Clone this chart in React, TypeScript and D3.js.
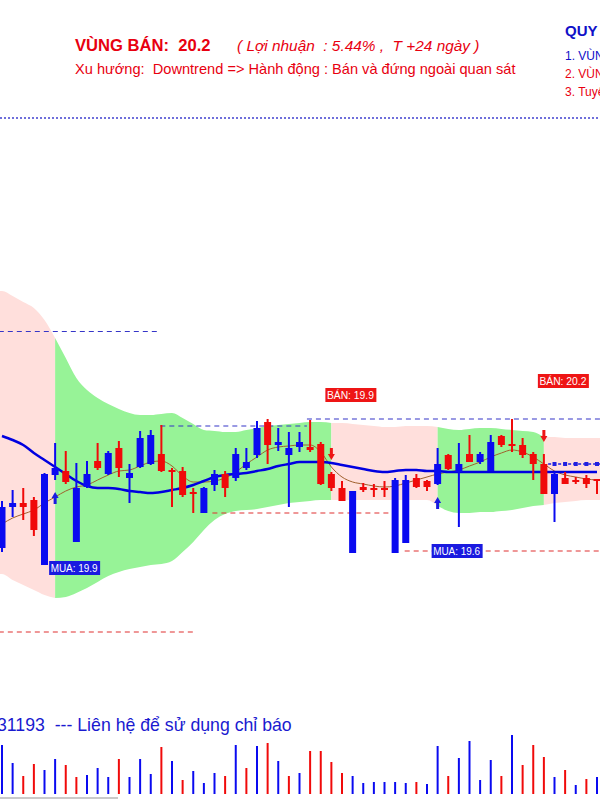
import React from 'react';
import * as d3 from 'd3';

const W = 600;
const H = 800;

// ---- candle data (price) ----
const opens = [19.555, 19.76, 19.78, 19.795, 19.47, 19.92, 19.94, 19.585, 19.86, 19.99,
  19.925, 20.055, 19.905, 19.96, 19.975, 20.025, 19.945, 19.94, 19.835, 19.73,
  19.87, 19.925, 19.905, 19.955, 20.02, 20.185, 20.07, 20.02, 20.06, 20.06,
  20.075, 19.925, 19.855, 19.53, 19.86, 19.855, 19.855, 19.53, 19.58, 19.905,
  19.89, 19.875, 20.02, 19.935, 20.025, 19.985, 19.94, 20.115, 20.075, 20.07,
  20.025, 19.975, 19.825, 19.905, 19.895, 19.905, 19.9];
const closes = [19.76, 19.78, 19.76, 19.645, 19.925, 19.955, 19.885, 19.855, 19.925, 19.955,
  20.03, 19.955, 19.93, 20.105, 20.12, 19.94, 19.935, 19.82, 19.825, 19.855,
  19.925, 19.855, 20.025, 19.985, 20.155, 20.07, 20.085, 20.055, 20.085, 20.045,
  19.875, 19.855, 19.79, 19.84, 19.845, 19.845, 19.845, 19.895, 19.895, 19.86,
  19.86, 19.975, 19.95, 19.975, 19.985, 20.025, 20.085, 20.07, 20.065, 20.02,
  19.975, 19.825, 19.925, 19.875, 19.885, 19.875, 19.89];
const highs = [19.79, 19.845, 19.855, 19.81, 19.93, 20.08, 20.04, 19.98, 19.99, 20.08,
  20.04, 20.09, 19.975, 20.14, 20.145, 20.17, 19.955, 19.96, 19.855, 19.86,
  19.945, 19.94, 20.055, 20.055, 20.19, 20.2, 20.155, 20.135, 20.135, 20.195,
  20.085, 19.935, 19.89, 19.84, 19.88, 19.875, 19.89, 19.905, 19.92, 19.925,
  19.895, 20.055, 20.025, 20.08, 20.12, 20.035, 20.12, 20.12, 20.2, 20.105,
  20.035, 20.025, 19.935, 19.935, 19.91, 19.92, 19.9];
const lows = [19.535, 19.71, 19.695, 19.615, 19.47, 19.895, 19.875, 19.585, 19.855, 19.945,
  19.92, 19.91, 19.78, 19.955, 19.97, 19.935, 19.76, 19.81, 19.73, 19.73,
  19.84, 19.81, 19.89, 19.945, 20.005, 19.975, 20.04, 19.76, 20.035, 20.035,
  19.87, 19.84, 19.79, 19.53, 19.835, 19.81, 19.81, 19.53, 19.58, 19.855,
  19.84, 19.87, 19.945, 19.66, 19.985, 19.975, 19.94, 20.06, 20.035, 20.005,
  19.895, 19.825, 19.685, 19.875, 19.875, 19.855, 19.825];

// ---- indicator lines ----
const maSlow = [20.115, 20.095, 20.07, 20.03, 19.995, 19.96, 19.925, 19.89, 19.865, 19.855,
  19.855, 19.85, 19.84, 19.835, 19.83, 19.835, 19.845, 19.855, 19.87, 19.89,
  19.91, 19.92, 19.925, 19.93, 19.94, 19.95, 19.965, 19.975, 19.985, 19.985,
  19.985, 19.98, 19.97, 19.96, 19.95, 19.94, 19.935, 19.94, 19.945, 19.945,
  19.94, 19.94, 19.935, 19.935, 19.935, 19.935, 19.935, 19.935, 19.935, 19.935,
  19.935, 19.935, 19.935, 19.935, 19.935, 19.935, 19.935];
const maFast = [19.675, 19.705, 19.725, 19.745, 19.78, 19.81, 19.84, 19.86, 19.87, 19.895,
  19.92, 19.94, 19.945, 19.965, 19.985, 19.99, 19.965, 19.915, 19.885, 19.885,
  19.89, 19.905, 19.935, 19.975, 20.01, 20.045, 20.06, 20.065, 20.07, 20.07,
  20.035, 19.96, 19.91, 19.885, 19.875, 19.865, 19.86, 19.865, 19.88, 19.895,
  19.91, 19.925, 19.935, 19.945, 19.965, 19.985, 20.01, 20.03, 20.045, 20.035,
  20.01, 19.975, 19.94, 19.92, 19.91, 19.9, 19.895];

// ---- band (cloud) ----
const bandUpper = [20.84, 20.815, 20.785, 20.755, 20.695, 20.605, 20.505, 20.405, 20.345, 20.305,
  20.275, 20.25, 20.23, 20.22, 20.22, 20.225, 20.23, 20.205, 20.175, 20.145,
  20.14, 20.135, 20.135, 20.145, 20.155, 20.165, 20.17, 20.175, 20.18, 20.185,
  20.185, 20.18, 20.18, 20.175, 20.17, 20.165, 20.16, 20.16, 20.165, 20.165,
  20.165, 20.16, 20.15, 20.145, 20.15, 20.155, 20.155, 20.15, 20.145, 20.14,
  20.135, 20.11, 20.11, 20.105, 20.105, 20.105, 20.105];
const bandLower = [19.425, 19.395, 19.37, 19.345, 19.32, 19.305, 19.31, 19.33, 19.355, 19.385,
  19.415, 19.435, 19.45, 19.46, 19.47, 19.475, 19.49, 19.535, 19.585, 19.645,
  19.695, 19.725, 19.74, 19.745, 19.75, 19.76, 19.77, 19.78, 19.785, 19.79,
  19.795, 19.795, 19.795, 19.795, 19.795, 19.795, 19.795, 19.795, 19.795, 19.795,
  19.795, 19.765, 19.74, 19.73, 19.73, 19.735, 19.735, 19.74, 19.745, 19.755,
  19.765, 19.77, 19.78, 19.785, 19.79, 19.795, 19.795];
const trendState = [
  'down', 'down', 'down', 'down', 'down',
  'up', 'up', 'up', 'up', 'up', 'up', 'up', 'up', 'up', 'up', 'up', 'up', 'up',
  'up', 'up', 'up', 'up', 'up', 'up', 'up', 'up', 'up', 'up', 'up', 'up', 'up',
  'down', 'down', 'down', 'down', 'down', 'down', 'down', 'down', 'down', 'down',
  'up', 'up', 'up', 'up', 'up', 'up', 'up', 'up', 'up', 'up',
  'down', 'down', 'down', 'down', 'down', 'down'];

// ---- volume ----
const volumes = [490, 310, 180, 300, 240, 350, 290, 170, 190, 260,
  170, 350, 170, 350, 200, 470, 330, 140, 230, 110,
  210, 180, 490, 260, 480, 510, 330, 180, 210, 430,
  430, 320, 210, 180, 110, 120, 120, 120, 110, 120,
  100, 480, 180, 360, 530, 140, 340, 180, 590, 290,
  490, 370, 170, 240, 90, 150, 170];
const volumeDir = ['u', 'u', 'd', 'd', 'u', 'u', 'd', 'd', 'u', 'u',
  'u', 'd', 'u', 'u', 'u', 'd', 'u', 'd', 'u', 'u',
  'u', 'd', 'u', 'd', 'u', 'd', 'u', 'd', 'u', 'd',
  'd', 'd', 'd', 'u', 'u', 'u', 'u', 'u', 'u', 'd',
  'u', 'u', 'd', 'u', 'u', 'u', 'u', 'd', 'u', 'd',
  'd', 'd', 'u', 'd', 'u', 'd', 'u'];

// ---- signals ----
const signalIndex = [5, 31, 41, 51];
const signalType = ['MUA', 'BÁN', 'MUA', 'BÁN'];
const signalPrice = [19.9, 19.9, 19.6, 20.2];
const signalLabelTop = [19.49, 20.355, 19.575, 20.425];

// ---- horizontal levels ----
const levelValue = [20.6375, 20.165, 20.2, 19.73, 19.54, 19.135];
const levelKind = ['res', 'res', 'res', 'sup', 'sup', 'sup'];
const levelFrom = [-0.3, 14.9, 28.7, 19.8, 37.9, -0.3];
const levelTo = [14.6, 28.7, 56.4, 36.4, 56.4, 18.2];

const stopValue = 19.975;
const stopFrom = 51.4;
const stopIdx = [52, 53, 54, 55, 56];

const BLUE = '#0a0af0';
const RED = '#f00a0a';
const PINK = '#ffdfdc';
const GREEN = '#97f397';

export default function App() {
  const n = opens.length;
  const x = d3.scaleLinear().domain([0, n - 1]).range([2, 597]);
  const y = d3.scaleLinear().domain([19.0, 21.0]).range([659, 259]);
  const yv = d3.scaleLinear().domain([0, 600]).range([794, 734]);

  // band runs
  const runs: { a: number; b: number; s: string }[] = [];
  let start = 0;
  for (let i = 1; i <= n; i++) {
    if (i === n || trendState[i] !== trendState[start]) {
      runs.push({ a: start, b: i - 1, s: trendState[start] });
      start = i;
    }
  }
  const area = d3.area<{ xi: number; k: number }>()
    .x(d => x(d.xi))
    .y0(d => y(bandLower[d.k]))
    .y1(d => y(bandUpper[d.k]))
    .curve(d3.curveMonotoneX);
  const bandPaths = runs.map((r, ri) => {
    const pts: { xi: number; k: number }[] = [];
    if (ri === 0) pts.push({ xi: -0.3, k: 0 });
    const end = Math.min(r.b + 1, n - 1);
    for (let k = r.a; k <= end; k++) pts.push({ xi: k, k });
    if (ri === runs.length - 1) pts.push({ xi: n - 0.6, k: n - 1 });
    return { d: area(pts) || '', fill: r.s === 'up' ? GREEN : PINK };
  });

  const line = d3.line<number>().x((_, i) => x(i)).y(v => y(v)).curve(d3.curveMonotoneX);

  const bodyW = 7;

  return (
    <svg width={W} height={H} style={{ position: 'absolute', left: 0, top: 0, background: '#fff' }}
      fontFamily="'Liberation Sans', Arial, sans-serif">
      <rect x={0} y={0} width={W} height={H} fill="#fff" />
      {/* header */}
      <text x={75} y={51} fontSize={16.6} fontWeight="bold" fill="#e80010" style={{ whiteSpace: 'pre' }}>VÙNG BÁN:  20.2</text>
      <text x={237} y={51} fontSize={15.4} fontStyle="italic" fill="#e80010" style={{ whiteSpace: 'pre' }}>( Lợi nhuận  : 5.44% ,  T +24 ngày )</text>
      <text x={75} y={74} fontSize={14.6} fill="#e80010" style={{ whiteSpace: 'pre' }}>Xu hướng:  Downtrend =&gt; Hành động : Bán và đứng ngoài quan sát</text>
      <text x={565} y={36} fontSize={15} fontWeight="bold" fill="#1010c8">QUY TẮC</text>
      <text x={565} y={60} fontSize={12} fill="#1010c8">1. VÙNG MUA</text>
      <text x={565} y={78} fontSize={12} fill="#e80010">2. VÙNG BÁN</text>
      <text x={565} y={96} fontSize={12} fill="#e80010">3. Tuyệt đối</text>
      <line x1={0} x2={W} y1={118} y2={118} stroke="#4040d0" strokeWidth={1.5} strokeDasharray="2,2" />

      {/* band */}
      {bandPaths.map((p, i) => <path key={'b' + i} d={p.d} fill={p.fill} stroke="none" />)}

      {/* levels */}
      {levelValue.map((v, i) => (
        <line key={'l' + i} x1={x(levelFrom[i])} x2={x(levelTo[i])} y1={y(v)} y2={y(v)}
          stroke={levelKind[i] === 'res' ? '#3535c8' : '#e03030'} strokeWidth={1.2} strokeDasharray="5,4" />
      ))}

      {/* lines */}
      <path d={line(maFast) || ''} fill="none" stroke="#a0602d" strokeWidth={1} />
      <path d={line(maSlow) || ''} fill="none" stroke="#0000e0" strokeWidth={2.5} />

      {/* stop line */}
      <line x1={x(stopFrom)} x2={W} y1={y(stopValue)} y2={y(stopValue)} stroke="#2020e0" strokeWidth={1.5} strokeDasharray="3,2" />
      {stopIdx.map(k => (
        <rect key={'s' + k} x={x(k) - 2} y={y(stopValue) - 2} width={4} height={4} fill="#2020e0" />
      ))}

      {/* candles */}
      {opens.map((o, i) => {
        const c = closes[i];
        const col = c >= o ? BLUE : RED;
        const top = y(Math.max(o, c));
        const bot = y(Math.min(o, c));
        return (
          <g key={'c' + i}>
            <line x1={x(i)} x2={x(i)} y1={y(highs[i])} y2={y(lows[i])} stroke={col} strokeWidth={2} />
            <rect x={x(i) - bodyW / 2} y={top} width={bodyW} height={Math.max(2, bot - top)} fill={col} />
          </g>
        );
      })}

      {/* signals */}
      {signalIndex.map((k, i) => {
        const buy = signalType[i] === 'MUA';
        const cx = x(k);
        const col = buy ? '#1a1ae0' : '#ee1515';
        let arrow;
        if (buy) {
          const t = y(lows[k]) + 12;
          arrow = <path d={`M${cx},${t} L${cx + 3.5},${t + 6} L${cx + 1.5},${t + 6} L${cx + 1.5},${t + 12} L${cx - 1.5},${t + 12} L${cx - 1.5},${t + 6} L${cx - 3.5},${t + 6} Z`} fill={col} />;
        } else {
          const b = y(highs[k]) - 12;
          arrow = <path d={`M${cx},${b} L${cx + 3.5},${b - 6} L${cx + 1.5},${b - 6} L${cx + 1.5},${b - 12} L${cx - 1.5},${b - 12} L${cx - 1.5},${b - 6} L${cx - 3.5},${b - 6} Z`} fill={col} />;
        }
        const ly = y(signalLabelTop[i]);
        return (
          <g key={'sg' + i}>
            {arrow}
            <rect x={cx - 6} y={ly} width={51} height={14} fill={col} />
            <text x={cx - 4.5} y={ly + 11} fontSize={11} fill="#fff" textLength={47} lengthAdjust="spacingAndGlyphs">{`${signalType[i]}: ${signalPrice[i]}`}</text>
          </g>
        );
      })}

      {/* volume */}
      <text x={-3} y={731} fontSize={17.7} fill="#1a1ad0" style={{ whiteSpace: 'pre' }}>31193  --- Liên hệ để sử dụng chỉ báo</text>
      {volumes.map((v, i) => (
        <line key={'v' + i} x1={x(i)} x2={x(i)} y1={yv(0)} y2={yv(v)}
          stroke={volumeDir[i] === 'u' ? BLUE : RED} strokeWidth={2} />
      ))}
      <line x1={0} x2={118} y1={798} y2={798} stroke="#b8b8b8" strokeWidth={1.5} />
    </svg>
  );
}
